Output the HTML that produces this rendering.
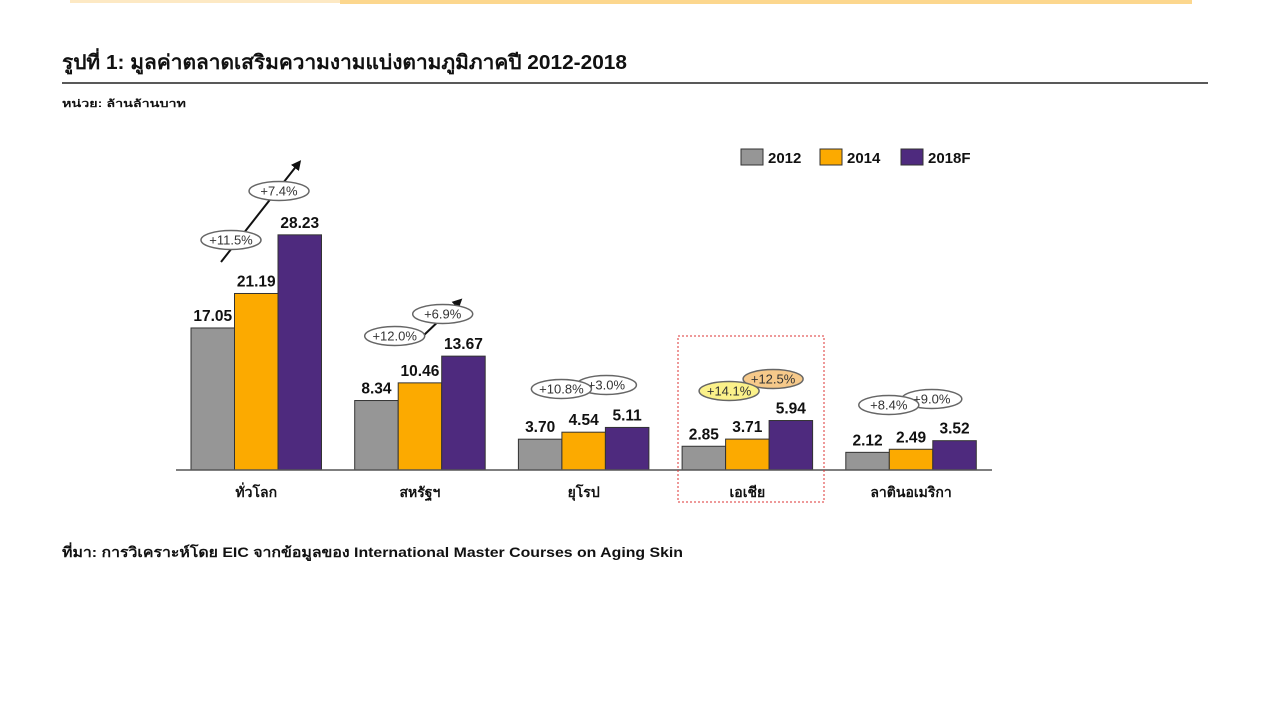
<!DOCTYPE html>
<html><head><meta charset="utf-8"><style>
body{margin:0;width:1280px;height:720px;background:#fff;overflow:hidden;font-family:"Liberation Sans","Noto Sans CJK SC",sans-serif}
svg{position:absolute;left:0;top:0}
</style></head><body>
<svg width="1280" height="720">
<defs><marker id="ah" markerWidth="5" markerHeight="5" refX="2.5" refY="2.5" orient="auto"><path d="M0,0 L5,2.5 L0,5 z" fill="#111"/></marker></defs>
<rect x="70" y="0" width="270" height="3" fill="#fde9c4"/>
<rect x="340" y="0" width="852" height="4" fill="#fcd78e"/>
<text x="62" y="69" font-size="20" font-weight="bold" fill="#111" textLength="565" lengthAdjust="spacingAndGlyphs">รูปที่ 1: มูลค่าตลาดเสริมความงามแบ่งตามภูมิภาคปี 2012-2018</text>
<line x1="62" y1="83" x2="1208" y2="83" stroke="#222" stroke-width="1.5"/>
<text x="62" y="107" font-size="10" font-weight="bold" fill="#111" textLength="124" lengthAdjust="spacingAndGlyphs">หน่วย: ล้านล้านบาท</text>
<g id="legend"></g>
<g id="bars"></g>
<g id="ann"></g>
<line x1="176" y1="470" x2="992" y2="470" stroke="#555" stroke-width="1.5"/>
<rect x="678" y="336" width="146" height="166" fill="none" stroke="#d33" stroke-dasharray="2,2"/>
<text x="62" y="557" font-size="14" font-weight="bold" fill="#111" textLength="621" lengthAdjust="spacingAndGlyphs">ที่มา: การวิเคราะห์โดย EIC จากข้อมูลของ International Master Courses on Aging Skin</text>
</svg>
<script>
const categories=["ทั่วโลก","สหรัฐฯ","ยุโรป","เอเชีย","ลาตินอเมริกา"];
const series=["2012","2014","2018F"];
const v2012=[17.05,8.34,3.70,2.85,2.12];
const v2014=[21.19,10.46,4.54,3.71,2.49];
const v2018=[28.23,13.67,5.11,5.94,3.52];
const growthA=["+11.5%","+12.0%","+10.8%","+14.1%","+8.4%"];
const growthB=["+7.4%","+6.9%","+3.0%","+12.5%","+9.0%"];
const colors=["#969696","#fcaa00","#4e2a7e"];
const NS="http://www.w3.org/2000/svg";
const base=470,scale=8.33,g0=191,gStep=163.7,bw=43.5;
const y=v=>base-v*scale;
const gx=i=>g0+i*gStep;
const badgePos=[[40,240,88,191],[40,336,88,314],[43,389,88,385],[47,391,91,379],[43,405,86,399]];
function mk(tag,attrs,parent){const e=document.createElementNS(NS,tag);for(const k in attrs)e.setAttribute(k,attrs[k]);parent.appendChild(e);return e;}
const bars=document.getElementById('bars'),ann=document.getElementById('ann'),leg=document.getElementById('legend');
const all=[v2012,v2014,v2018];
categories.forEach((c,i)=>{
 all.forEach((arr,s)=>{
  const x=gx(i)+s*bw;
  const r=mk('rect',{x:x,y:y(arr[i]),width:bw,height:arr[i]*scale,fill:colors[s],stroke:"#333","stroke-width":1},bars);
  
  
  const t=mk('text',{x:x+bw/2,y:y(arr[i])-7,"text-anchor":"middle","font-size":15.5,"font-weight":"bold",fill:"#111"},bars);
  t.textContent=arr[i].toFixed(2);
  
  
 });
 const l=mk('text',{x:gx(i)+1.5*bw,y:497,"text-anchor":"middle","font-size":14,"font-weight":"bold",fill:"#111"},bars);
 l.textContent=c;
 
 
 const p=badgePos[i];
 const ax=gx(i)+p[0],ay=p[1],bx=gx(i)+p[2],by=p[3];
 if(i<2){
  const ln=mk('line',{x1:gx(i)+(i==0?30:62),y1:(i==0?262:342),x2:gx(i)+(i==0?107:104),y2:(i==0?164:302),stroke:"#111","stroke-width":2,"marker-end":"url(#ah)"},ann);
  
  
 }
 const fillA=i==3?"#fbf18a":"#fff", fillB=i==3?"#f6c98a":"#fff";
 [[bx,by,growthB[i],fillB],[ax,ay,growthA[i],fillA]].forEach(([cx,cy,tx,f])=>{
  const e=mk('ellipse',{cx:cx,cy:cy,rx:30,ry:9.5,fill:f,stroke:"#666","stroke-width":1.5},ann);
  
  
  const t=mk('text',{x:cx,y:cy+4.5,"text-anchor":"middle","font-size":13,fill:"#333"},ann);
  t.textContent=tx;
  
  
 });
});
series.forEach((s,k)=>{
 const lx=[741,820,901][k];
 const r=mk('rect',{x:lx,y:149,width:22,height:16,fill:colors[k],stroke:"#333"},leg);
 
 
 const t=mk('text',{x:lx+27,y:163,"font-size":15,"font-weight":"bold",fill:"#111"},leg);
 t.textContent=s;
 
 
});
</script>
</body></html>
